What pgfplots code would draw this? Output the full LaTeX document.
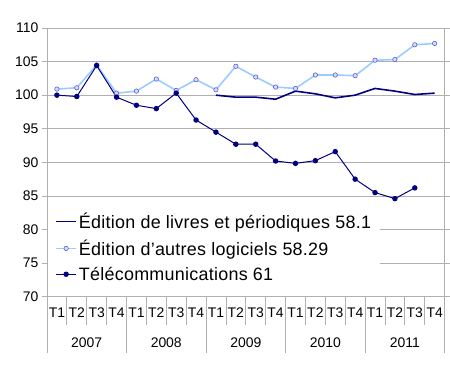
\documentclass[border=0pt]{standalone}
\usepackage{pgfplots}
\pgfplotsset{compat=1.18}
\usepackage{fontspec}
\setmainfont{Liberation Sans}
\definecolor{navyc}{HTML}{000080}
\definecolor{lightb}{HTML}{99CCFF}
\definecolor{markb}{HTML}{5A5AD0}
\definecolor{markf}{HTML}{D8DDFF}
\definecolor{gridc}{HTML}{B0B0B0}
\begin{document}
\begin{tikzpicture}
\begin{axis}[
  at={(0,0)}, anchor=south west,
  scale only axis, width=398bp, height=269bp,
  xmin=0.5, xmax=20.5, ymin=70, ymax=110,
  ytick={70,75,...,110},
  xtick=\empty,
  minor xtick={2.5,4.5,...,18.5},
  xminorgrids, ymajorgrids,
  minor x tick style={draw=none},
  grid style={gridc, line width=0.8pt},
  minor grid style={gridc, line width=0.8pt},
  axis line style={gridc, line width=0.8pt},
  y tick style={gridc, line width=0.8pt},
  tick align=outside, major tick length=5bp,
  yticklabel style={font=\fontsize{14}{16}\selectfont},
  /pgf/number format/assume math mode=true,
  clip=false,
  legend cell align=left,
  legend style={at={(0.003,0.335)}, anchor=north west, fill=white, draw=none,
    font=\fontsize{18}{20}\selectfont\addfontfeature{LetterSpace=1.5}, row sep=6bp, inner xsep=7bp, inner ysep=4bp},
  legend image code/.code={\draw[#1] (0bp,0bp) -- (20bp,0bp); \path[#1, mark repeat=2, mark phase=2] plot coordinates {(0bp,0bp) (10bp,0bp) (20bp,0bp)};},
]
% separators and category labels
\pgfplotsinvokeforeach{1,2,3,5,6,7,9,10,11,13,14,15,17,18,19}{
  \draw[gridc, line width=0.8pt] (axis cs:#1+0.5,70) -- ([yshift=-28bp]axis cs:#1+0.5,70);
}
\pgfplotsinvokeforeach{0,4,8,12,16,20}{
  \draw[gridc, line width=0.8pt] (axis cs:#1+0.5,70) -- ([yshift=-56bp]axis cs:#1+0.5,70);
}
\pgfplotsinvokeforeach{0,4,8,12,16}{
  \node[font=\fontsize{14}{16}\selectfont] at ([yshift=-16bp]axis cs:#1+1,70) {T1};
  \node[font=\fontsize{14}{16}\selectfont] at ([yshift=-16bp]axis cs:#1+2,70) {T2};
  \node[font=\fontsize{14}{16}\selectfont] at ([yshift=-16bp]axis cs:#1+3,70) {T3};
  \node[font=\fontsize{14}{16}\selectfont] at ([yshift=-16bp]axis cs:#1+4,70) {T4};
}
\node[font=\fontsize{14}{16}\selectfont] at ([yshift=-46bp]axis cs:2.5,70) {2007};
\node[font=\fontsize{14}{16}\selectfont] at ([yshift=-46bp]axis cs:6.5,70) {2008};
\node[font=\fontsize{14}{16}\selectfont] at ([yshift=-46bp]axis cs:10.5,70) {2009};
\node[font=\fontsize{14}{16}\selectfont] at ([yshift=-46bp]axis cs:14.5,70) {2010};
\node[font=\fontsize{14}{16}\selectfont] at ([yshift=-46bp]axis cs:18.5,70) {2011};

\addplot[navyc, line width=1.6pt, mark=none] coordinates {
(9,100.0) (10,99.7) (11,99.7) (12,99.4)
(13,100.6) (14,100.2) (15,99.6) (16,100.0)
(17,101.0) (18,100.6) (19,100.1) (20,100.3)};
\addlegendentry{Édition de livres et périodiques 58.1}

\addplot[lightb, line width=1.6pt, mark=*, mark size=2.2bp, mark options={draw=markb, fill=markf, line width=0.6pt}] coordinates {
(1,100.9) (2,101.1) (3,104.5) (4,100.3)
(5,100.6) (6,102.4) (7,100.7) (8,102.3)
(9,100.8) (10,104.3) (11,102.7) (12,101.2)
(13,101.0) (14,103.0) (15,103.0) (16,102.9)
(17,105.2) (18,105.3) (19,107.5) (20,107.7)};
\addlegendentry{Édition d'autres logiciels 58.29}

\addplot[navyc, line width=1pt, mark=*, mark size=2.2bp, mark options={fill=navyc}] coordinates {
(1,100.0) (2,99.8) (3,104.4) (4,99.7)
(5,98.5) (6,98.0) (7,100.3) (8,96.3)
(9,94.5) (10,92.7) (11,92.7) (12,90.2)
(13,89.85) (14,90.25) (15,91.6) (16,87.5)
(17,85.5) (18,84.6) (19,86.2)};
\addlegendentry{Télécommunications 61}
\end{axis}
\useasboundingbox (-47bp,-68bp) rectangle (403bp,297bp);
\end{tikzpicture}
\end{document}
